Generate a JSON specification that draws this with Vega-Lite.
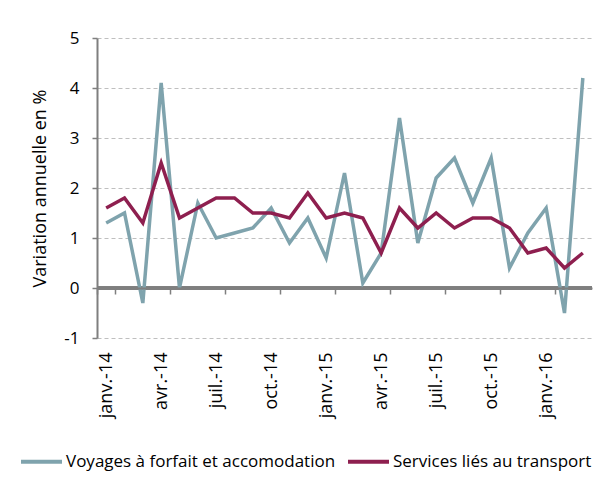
{
  "$schema": "https://vega.github.io/schema/vega-lite/v6.json",
  "width": 495,
  "height": 300,
  "autosize": "none",
  "padding": {"left": 97, "top": 38, "right": 19, "bottom": 149},
  "background": "white",
  "config": {
    "view": {"stroke": null},
    "font": "Open Sans",
    "axis": {"labelFont": "Open Sans", "titleFont": "Open Sans", "labelColor": "#000000", "titleColor": "#000000"}
  },
  "data": {
    "values": [
      {"mois": "janv.-14", "Voyages à forfait et accomodation": 1.3, "Services liés au transport": 1.6},
      {"mois": "févr.-14", "Voyages à forfait et accomodation": 1.5, "Services liés au transport": 1.8},
      {"mois": "mars-14", "Voyages à forfait et accomodation": -0.3, "Services liés au transport": 1.3},
      {"mois": "avr.-14", "Voyages à forfait et accomodation": 4.1, "Services liés au transport": 2.5},
      {"mois": "mai-14", "Voyages à forfait et accomodation": 0.0, "Services liés au transport": 1.4},
      {"mois": "juin-14", "Voyages à forfait et accomodation": 1.7, "Services liés au transport": 1.6},
      {"mois": "juil.-14", "Voyages à forfait et accomodation": 1.0, "Services liés au transport": 1.8},
      {"mois": "août-14", "Voyages à forfait et accomodation": 1.1, "Services liés au transport": 1.8},
      {"mois": "sept.-14", "Voyages à forfait et accomodation": 1.2, "Services liés au transport": 1.5},
      {"mois": "oct.-14", "Voyages à forfait et accomodation": 1.6, "Services liés au transport": 1.5},
      {"mois": "nov.-14", "Voyages à forfait et accomodation": 0.9, "Services liés au transport": 1.4},
      {"mois": "déc.-14", "Voyages à forfait et accomodation": 1.4, "Services liés au transport": 1.9},
      {"mois": "janv.-15", "Voyages à forfait et accomodation": 0.6, "Services liés au transport": 1.4},
      {"mois": "févr.-15", "Voyages à forfait et accomodation": 2.3, "Services liés au transport": 1.5},
      {"mois": "mars-15", "Voyages à forfait et accomodation": 0.1, "Services liés au transport": 1.4},
      {"mois": "avr.-15", "Voyages à forfait et accomodation": 0.7, "Services liés au transport": 0.7},
      {"mois": "mai-15", "Voyages à forfait et accomodation": 3.4, "Services liés au transport": 1.6},
      {"mois": "juin-15", "Voyages à forfait et accomodation": 0.9, "Services liés au transport": 1.2},
      {"mois": "juil.-15", "Voyages à forfait et accomodation": 2.2, "Services liés au transport": 1.5},
      {"mois": "août-15", "Voyages à forfait et accomodation": 2.6, "Services liés au transport": 1.2},
      {"mois": "sept.-15", "Voyages à forfait et accomodation": 1.7, "Services liés au transport": 1.4},
      {"mois": "oct.-15", "Voyages à forfait et accomodation": 2.6, "Services liés au transport": 1.4},
      {"mois": "nov.-15", "Voyages à forfait et accomodation": 0.4, "Services liés au transport": 1.2},
      {"mois": "déc.-15", "Voyages à forfait et accomodation": 1.1, "Services liés au transport": 0.7},
      {"mois": "janv.-16", "Voyages à forfait et accomodation": 1.6, "Services liés au transport": 0.8},
      {"mois": "févr.-16", "Voyages à forfait et accomodation": -0.5, "Services liés au transport": 0.4},
      {"mois": "mars-16", "Voyages à forfait et accomodation": 4.2, "Services liés au transport": 0.7}
    ]
  },
  "transform": [
    {"fold": ["Voyages à forfait et accomodation", "Services liés au transport"], "as": ["serie", "valeur"]}
  ],
  "layer": [
    {
      "mark": {"type": "rule", "stroke": "#7f7f7f", "strokeWidth": 2.5, "strokeDash": [1, 0]},
      "encoding": {"y": {"datum": 0, "type": "quantitative"}}
    },
    {
      "mark": {"type": "line", "strokeWidth": 3.5, "strokeJoin": "miter", "strokeCap": "butt"},
      "encoding": {
        "x": {
          "field": "mois", "type": "ordinal", "sort": null,
          "scale": {"type": "band", "paddingInner": 0, "paddingOuter": 0},
          "axis": {
            "orient": "bottom", "offset": -50, "title": null, "grid": false, "zindex": 1,
            "domain": true, "domainColor": "#7f7f7f", "domainWidth": 2,
            "ticks": true, "tickColor": "#7f7f7f", "tickWidth": 1.5, "tickSize": 6, "tickBand": "extent",
            "labelAngle": -90, "labelFontSize": 18, "labelPadding": 58,
            "values": ["janv.-14", "avr.-14", "juil.-14", "oct.-14", "janv.-15", "avr.-15", "juil.-15", "oct.-15", "janv.-16"]
          }
        },
        "y": {
          "field": "valeur", "type": "quantitative",
          "scale": {"domain": [-1, 5], "nice": false, "zero": false},
          "axis": {
            "title": "Variation annuelle en %", "titleFontSize": 18, "titleFontWeight": "normal", "titlePadding": 14,
            "values": [-1, 0, 1, 2, 3, 4, 5], "labelExpr": "toString(datum.value)",
            "labelFontSize": 17, "labelPadding": 13,
            "domain": true, "domainColor": "#7f7f7f", "domainWidth": 2,
            "ticks": true, "tickColor": "#7f7f7f", "tickSize": 5, "tickWidth": 1.5,
            "grid": true, "gridColor": "#bfbfbf", "gridDash": [4, 3], "gridWidth": 1
          }
        },
        "color": {
          "field": "serie", "type": "nominal",
          "scale": {"domain": ["Voyages à forfait et accomodation", "Services liés au transport"], "range": ["#7fa3ad", "#8e1f4f"]},
          "legend": {
            "title": null, "orient": "none", "direction": "horizontal", "legendX": -78, "legendY": 401,
            "symbolType": "stroke", "symbolSize": 1681, "symbolStrokeWidth": 4, "labelLimit": 400,
            "labelFontSize": 17, "labelFont": "Open Sans", "labelColor": "#000000", "labelOffset": 2, "columnPadding": 4
          }
        }
      }
    }
  ]
}
